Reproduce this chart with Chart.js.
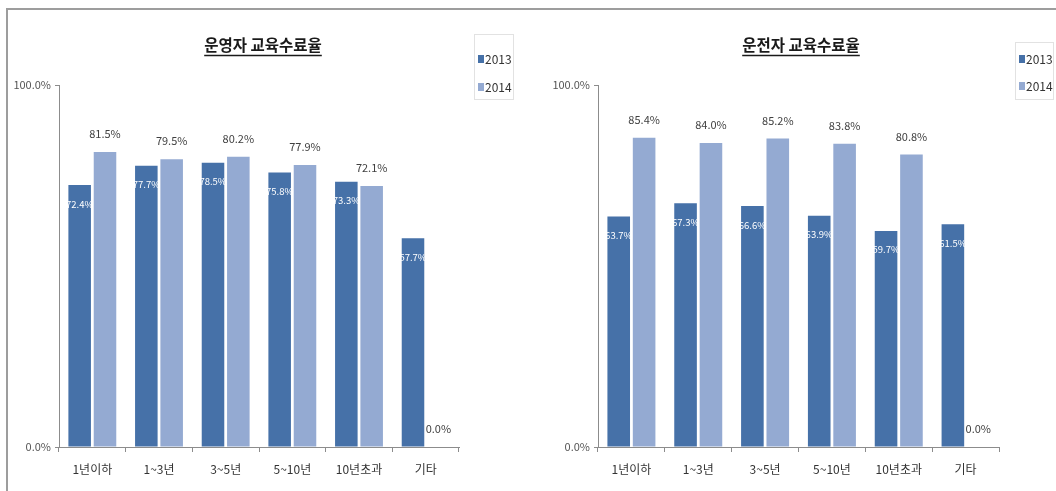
<!DOCTYPE html>
<html><head><meta charset="utf-8">
<script src="https://cdn.jsdelivr.net/npm/chart.js@4.4.0/dist/chart.umd.min.js"></script>
<style>
html,body{margin:0;padding:0;background:#fff}
body{width:1056px;height:491px;overflow:hidden;position:relative}
#frame{position:absolute;left:6px;top:8px;width:1060px;height:500px;border-left:2px solid #9d9d9d;border-top:2px solid #9d9d9d}
.wrap{position:absolute;top:0;width:528px;height:491px}
canvas{display:block}
</style></head><body>
<div id="frame"></div>
<div class="wrap" style="left:0"><canvas id="c1"></canvas></div>
<div class="wrap" style="left:528px"><canvas id="c2"></canvas></div>
<script>
const categories = ['1년이하', '1~3년', '3~5년', '5~10년', '10년초과', '기타'];
const seriesNames = ['2013', '2014'];
const operator2013 = [72.4, 77.7, 78.5, 75.8, 73.3, 57.7];
const operator2014 = [81.5, 79.5, 80.2, 77.9, 72.1, 0.0];
const driver2013 = [63.7, 67.3, 66.6, 63.9, 59.7, 61.5];
const driver2014 = [85.4, 84.0, 85.2, 83.8, 80.8, 0.0];
const chartTitles = ['운영자 교육수료율', '운전자 교육수료율'];
const yTickValues = [0, 100];

const COLORS = ['#4671a8', '#94aad2'];
const FONT = "'Noto Sans CJK KR', 'Noto Sans', sans-serif";

const decorPlugin = {
  id: 'decor',
  afterDraw(chart) {
    const o = chart.options.plugins.decor;
    const ctx = chart.ctx;
    ctx.save();
    ctx.font = 'bold 15.5px ' + FONT;
    ctx.fillStyle = '#1a1a1a';
    ctx.textAlign = 'center';
    ctx.textBaseline = 'middle';
    ctx.fillText(o.title, o.titleX, o.titleY);
    const w = ctx.measureText(o.title).width;
    ctx.strokeStyle = '#1a1a1a';
    ctx.lineWidth = 1.3;
    ctx.beginPath();
    ctx.moveTo(o.titleX - w / 2, o.titleY + 10.5);
    ctx.lineTo(o.titleX + w / 2, o.titleY + 10.5);
    ctx.stroke();
    const L = o.legend;
    ctx.strokeStyle = '#e2e2e2';
    ctx.lineWidth = 1;
    ctx.strokeRect(L.x + 0.5, L.y + 0.5, L.w, L.h);
    ctx.font = '12px ' + FONT;
    ctx.textAlign = 'left';
    chart.data.datasets.forEach((ds, i) => {
      const cy = L.itemY[i];
      ctx.fillStyle = ds.backgroundColor;
      ctx.fillRect(L.x + 4, cy - 4, 6, 8);
      ctx.fillStyle = '#333';
      ctx.fillText(ds.label, L.x + 11, cy);
    });
    ctx.restore();
  },
  afterDatasetsDraw(chart) {
    const ctx = chart.ctx;
    ctx.save();
    ctx.textAlign = 'center';
    ctx.textBaseline = 'middle';
    chart.data.datasets.forEach((ds, di) => {
      const meta = chart.getDatasetMeta(di);
      meta.data.forEach((el, i) => {
        const v = ds.data[i];
        const txt = v.toFixed(1) + '%';
        if (di === 0) {
          ctx.font = '9.5px ' + FONT;
          ctx.fillStyle = '#ffffff';
          ctx.fillText(txt, el.x, el.y + 19);
        } else {
          ctx.font = '11px ' + FONT;
          ctx.fillStyle = '#404040';
          ctx.fillText(txt, el.x, el.y - 18);
        }
      });
    });
    ctx.restore();
  }
};

function makeChart(id, d2013, d2014, geo, title) {
  const cv = document.getElementById(id);
  cv.width = 528; cv.height = 491;
  return new Chart(cv, {
    type: 'bar',
    data: {
      labels: categories,
      datasets: [
        { label: seriesNames[0], data: d2013, backgroundColor: COLORS[0] },
        { label: seriesNames[1], data: d2014, backgroundColor: COLORS[1] }
      ]
    },
    plugins: [decorPlugin],
    options: {
      responsive: false,
      animation: false,
      devicePixelRatio: 1,
      categoryPercentage: 0.76,
      barPercentage: 0.89,
      layout: { padding: { top: 85, left: 0, right: 528 - geo.axisRight, bottom: 0 } },
      plugins: {
        legend: { display: false },
        tooltip: { enabled: false },
        title: { display: false },
        decor: { title: title, titleX: geo.titleX, titleY: 45, legend: geo.legend }
      },
      scales: {
        x: {
          afterFit: s => { s.height = 44; },
          grid: { drawOnChartArea: false, drawTicks: true, tickLength: 5, color: '#8c8c8c', offset: true },
          border: { color: '#8c8c8c', width: 1 },
          ticks: { padding: 10, color: '#333', font: { family: FONT, size: 12 } }
        },
        y: {
          min: 0, max: 100,
          afterFit: s => { s.width = geo.axisLeft; },
          afterBuildTicks: s => { s.ticks = yTickValues.map(v => ({ value: v })); },
          grid: { drawOnChartArea: false, drawTicks: true, tickLength: 4, color: '#8c8c8c' },
          border: { color: '#8c8c8c', width: 1 },
          ticks: { padding: 4, color: '#555', font: { family: FONT, size: 11 },
                   callback: v => Number(v).toFixed(1) + '%' }
        }
      }
    }
  });
}

makeChart('c1', operator2013, operator2014,
  { axisLeft: 59, axisRight: 459, titleX: 263,
    legend: { x: 474, y: 34, w: 39, h: 65, itemY: [59, 87] } },
  chartTitles[0]);
makeChart('c2', driver2013, driver2014,
  { axisLeft: 70, axisRight: 471, titleX: 273,
    legend: { x: 487, y: 42, w: 38, h: 57, itemY: [59, 86] } },
  chartTitles[1]);
</script>
</body></html>
